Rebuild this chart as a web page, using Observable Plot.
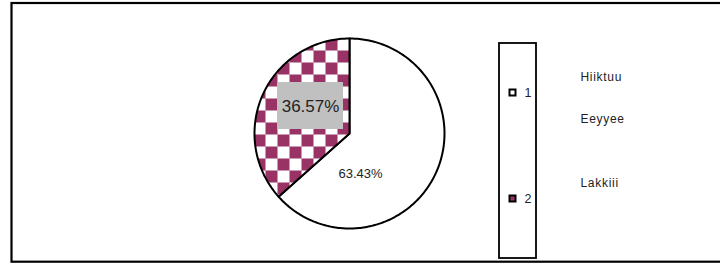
<!DOCTYPE html>
<html>
<head>
<meta charset="utf-8">
<script src="https://cdn.jsdelivr.net/npm/d3@7"></script>
<script src="https://cdn.jsdelivr.net/npm/@observablehq/plot@0.6"></script>
<style>
  html, body { margin: 0; padding: 0; background: #fff; }
  svg { display: block; }
  .notes text { letter-spacing: 0.7px; }
</style>
</head>
<body>
<div id="chart"></div>
<script>
// ---- data ----
const categories = ["1", "2"];
const values = [63.43, 36.57];
const valueLabels = ["63.43%", "36.57%"];
const notes = ["Hiiktuu", "Eeyyee", "Lakkiii"];

// ---- layout ----
const W = 720, H = 263;
const cx = 349, cy = 133, R = 95;
const maroon = "#993366";
const font = "'Liberation Sans', Arial, sans-serif";

// build slice polygons from the values (clockwise from 12 o'clock)
const total = d3.sum(values);
const slicePts = [];
let acc = 0;
categories.forEach((c, i) => {
  const a0 = acc / total * 2 * Math.PI;
  acc += values[i];
  const a1 = acc / total * 2 * Math.PI;
  slicePts.push({cat: c, x: cx, y: cy});
  const n = Math.max(2, Math.ceil((a1 - a0) / (Math.PI / 180)));
  for (let k = 0; k <= n; k++) {
    const a = a0 + (a1 - a0) * k / n;
    slicePts.push({cat: c, x: cx + R * Math.sin(a), y: cy - R * Math.cos(a)});
  }
  slicePts.push({cat: c, x: cx, y: cy});
});

const labelPos = [
  {x: 360, y: 173, size: 13, box: false},
  {x: 310, y: 106, size: 17, box: true, x1: 277, x2: 343, y1: 82, y2: 129}
];
const labels = valueLabels.map((t, i) => ({text: t, ...labelPos[i]}));
const boxes = labels.filter(d => d.box);

const legendBox = [{x1: 499, x2: 536, y1: 43, y2: 258}];
const legendPos = [{y: 92.5}, {y: 198.5}];
const legend = categories.map((c, i) => ({cat: c, ...legendPos[i]}));
const notePos = [77, 119, 183];
const noteData = notes.map((t, i) => ({text: t, y: notePos[i]}));

const svg = Plot.plot({
  width: W, height: H,
  margin: 0,
  x: {domain: [0, W], range: [0, W], axis: null},
  y: {domain: [0, H], range: [0, H], axis: null},
  color: {type: "ordinal", domain: categories, range: ["white", "url(#checker)"]},
  style: {fontFamily: font, background: "white"},
  marks: [
    Plot.frame({stroke: "black", strokeWidth: 2.2, insetLeft: 11, insetTop: 2.5, insetBottom: 1.8, insetRight: -5}),
    Plot.line(slicePts, {x: "x", y: "y", z: "cat", fill: "cat", stroke: "black", strokeWidth: 2, strokeLinejoin: "round"}),
    Plot.rect(boxes, {x1: "x1", x2: "x2", y1: "y1", y2: "y2", fill: "#c0c0c0"}),
    Plot.text(labels, {x: "x", y: "y", text: "text", fontSize: d => d.size, fill: "#222", textAnchor: "middle"}),
    Plot.rect(legendBox, {x1: "x1", x2: "x2", y1: "y1", y2: "y2", fill: "white", stroke: "black", strokeWidth: 1.8}),
    Plot.rect(legend, {x1: 509.5, x2: 515.5, y1: d => d.y - 3, y2: d => d.y + 3, fill: d => d.cat === "1" ? "white" : maroon, stroke: "black", strokeWidth: 2}),
    Plot.text(legend, {x: 524, y: "y", text: "cat", fontSize: 12.5, fill: "#222", textAnchor: "start"}),
    Plot.text(noteData, {x: 580, y: "y", text: "text", fontSize: 12, fill: "#222", textAnchor: "start", className: "notes"})
  ]
});

// checker pattern definition
const defs = d3.select(svg).insert("defs", ":first-child");
const pat = defs.append("pattern")
  .attr("id", "checker")
  .attr("patternUnits", "userSpaceOnUse")
  .attr("x", 13).attr("y", 14)
  .attr("width", 24).attr("height", 24);
pat.append("rect").attr("width", 24).attr("height", 24).attr("fill", "white");
pat.append("rect").attr("x", 0).attr("y", 0).attr("width", 12).attr("height", 12).attr("fill", maroon);
pat.append("rect").attr("x", 12).attr("y", 12).attr("width", 12).attr("height", 12).attr("fill", maroon);

document.getElementById("chart").append(svg);
</script>
</body>
</html>
